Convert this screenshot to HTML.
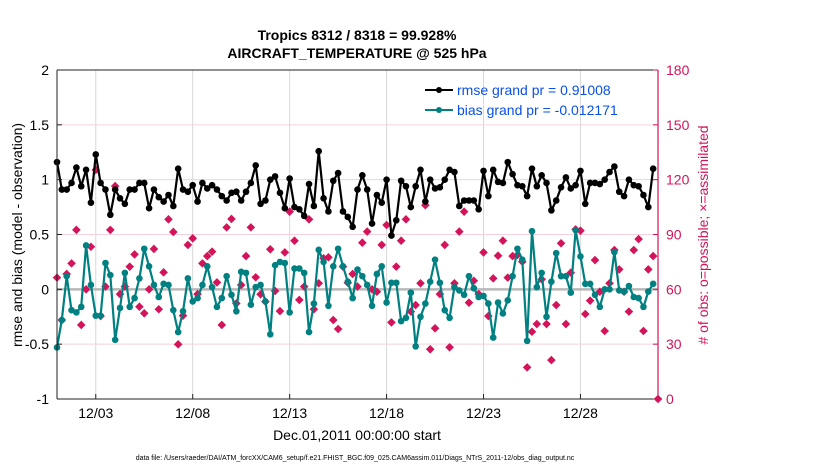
<!DOCTYPE html>
<html><head><meta charset="utf-8"><style>
body{margin:0;background:#fff;}
svg{display:block;font-family:"Liberation Sans",Arial,sans-serif;}
</style></head><body>
<svg id="chart" width="830" height="470" viewBox="0 0 830 470">
<text x="357" y="40" text-anchor="middle" font-size="14" font-weight="bold">Tropics 8312 / 8318 = 99.928%</text>
<text x="357" y="58" text-anchor="middle" font-size="14" font-weight="bold">AIRCRAFT_TEMPERATURE @ 525 hPa</text>
<g id="grid"></g>
<g id="marks"></g>
<g id="axes"></g>
<g>
 <g>
  <line x1="425" y1="90" x2="453" y2="90" stroke="#000" stroke-width="2"/><circle cx="439" cy="90" r="3" fill="#000"/>
  <text x="457" y="95" font-size="14" fill="#0a50e8">rmse grand pr = 0.91008</text></g>
 <g>
  <line x1="425" y1="110" x2="453" y2="110" stroke="#008080" stroke-width="2"/><circle cx="439" cy="110" r="3" fill="#008080"/>
  <text x="457" y="115" font-size="14" fill="#0a50e8">bias grand pr = -0.012171</text></g>
</g>
<text x="0" y="0" transform="translate(22,235) rotate(-90)" text-anchor="middle" font-size="14">rmse and bias (model - observation)</text>
<text x="0" y="0" transform="translate(708,235) rotate(-90)" text-anchor="middle" font-size="14" fill="#d4145a"># of obs: o=possible; ×=assimilated</text>
<text x="357" y="440" text-anchor="middle" font-size="14">Dec.01,2011 00:00:00 start</text>
<text x="355" y="460" text-anchor="middle" font-size="7">data file: /Users/raeder/DAI/ATM_forcXX/CAM6_setup/f.e21.FHIST_BGC.f09_025.CAM6assim.011/Diags_NTrS_2011-12/obs_diag_output.nc</text>
</svg>
<script>
const rmse=[1.16,0.91,0.91,0.97,1.11,0.94,1.09,0.79,1.23,0.97,0.91,0.68,0.91,0.83,0.78,0.91,0.91,0.97,0.97,0.74,0.91,0.84,0.80,0.86,0.76,1.10,0.91,0.89,0.95,0.80,0.97,0.92,0.95,0.91,0.85,0.81,0.88,0.89,0.81,0.89,0.97,1.13,0.78,
0.81,1.00,1.03,0.88,0.74,1.01,0.75,0.73,0.67,0.96,0.76,1.26,0.83,0.71,0.99,1.06,0.71,0.66,0.57,0.91,1.04,0.91,0.60,0.86,0.79,1.00,0.49,0.63,0.99,0.94,0.75,0.94,1.09,0.80,1.00,0.92,0.93,1.00,1.09,1.07,0.76,0.81,
0.81,0.81,0.73,1.08,0.85,1.09,0.98,0.97,1.16,1.05,0.95,0.94,0.85,1.10,0.94,1.04,0.97,0.72,0.81,0.93,1.02,0.92,0.95,1.08,0.78,0.97,0.97,0.96,1.00,1.07,1.12,0.89,0.85,1.00,0.95,0.94,0.86,0.75,1.10];
const bias=[-0.53,-0.28,0.12,-0.19,-0.21,-0.16,0.40,0.04,-0.24,-0.24,0.24,0.13,-0.46,-0.17,0.15,-0.16,-0.08,0.10,0.37,0.21,0.04,-0.07,0.05,0.04,-0.19,-0.39,-0.20,0.10,-0.11,-0.08,0.04,0.21,0.02,-0.16,-0.08,0.12,-0.05,-0.20,0.16,0.15,-0.14,0.02,0.04,
-0.11,-0.41,0.22,0.25,0.24,-0.21,0.19,0.19,0.15,-0.39,-0.13,0.36,0.25,-0.15,0.21,0.37,0.21,0.07,-0.08,0.18,0.12,0.04,-0.15,0.14,0.21,-0.12,0.06,0.06,-0.29,-0.26,-0.03,-0.52,-0.25,-0.13,0.07,0.27,0.06,-0.19,-0.26,0.02,-0.01,-0.05,
0.12,0.01,-0.07,-0.06,-0.13,-0.44,-0.12,-0.22,-0.10,0.12,0.37,0.27,-0.47,0.53,0.02,0.15,-0.25,0.07,0.33,0.12,0.12,-0.03,0.54,0.30,0.05,0.05,-0.05,-0.16,0.00,0.00,0.34,-0.01,-0.02,0.03,-0.07,-0.08,-0.16,-0.02,0.05];
const nobs=[66.4,43.2,68.4,74.2,92.5,40.5,60,83.3,125.3,45.4,61.5,92.5,116.5,57.4,61.5,72.4,79.1,50.5,46.9,60,82.1,49.1,69.3,98.3,91.4,29.9,45.6,84.3,87.9,57.4,74.2,78.2,80.6,63.8,40.5,93.9,98.5,52.3,62.4,78.2,93.9,66.6,57.3,
53.3,81.9,59.1,48.1,80.2,102.5,86.6,54.2,61.5,98.3,49.1,63.3,77.0,77.5,43.2,38.3,72.4,63.6,68.4,61.5,85.5,91.6,60,58.7,84.3,95.2,41.9,72.4,86.6,98.3,47.8,51.4,63.3,106.0,27.2,38.7,57.4,84.3,28.3,63.3,91.6,102.5,
52.7,64.7,57.4,80.2,45.4,66.0,78.4,86.6,66.4,78.2,78.8,75.1,17.3,36.8,41.0,65.5,41.0,21.3,51.4,85.2,41.0,69.1,92.8,92.1,46.5,53.8,76.0,58.7,37.2,63.3,81.5,70.9,58.7,47.8,81.5,87.5,37.2,70.9,78.2,0];
const leftTicks=[-1,-0.5,0,0.5,1,1.5,2];
const leftTickLabels=["-1","-0.5","0","0.5","1","1.5","2"];
const rightTicks=[0,30,60,90,120,150,180];
const xTickDays=[2,7,12,17,22,27];
const xTickLabels=["12/03","12/08","12/13","12/18","12/23","12/28"];

const NS="http://www.w3.org/2000/svg";
const X0=57,X1=658,Y0=399,Y1=70;
const xs=d=>X0+(X1-X0)*d/31;
const yl=v=>Y0-(Y0-Y1)*(v+1)/3;
const yr=v=>Y0-(Y0-Y1)*v/180;
function mk(p,tag,a){const e=document.createElementNS(NS,tag);for(const k in a)e.setAttribute(k,a[k]);p.appendChild(e);return e;}
const grid=document.getElementById('grid'),marks=document.getElementById('marks'),axes=document.getElementById('axes');

xTickDays.forEach(d=>{const l=mk(grid,'line',{x1:xs(d),x2:xs(d),y1:Y1,y2:Y0,stroke:'#d8d8d8','stroke-width':1});

});
rightTicks.forEach(v=>{if(v===60)return;const l=mk(grid,'line',{x1:X0,x2:X1,y1:yr(v),y2:yr(v),stroke:'#f6d0dc','stroke-width':1});

});
const zl=mk(grid,'line',{x1:X0,x2:X1,y1:yl(0),y2:yl(0),stroke:'#b8b8b8','stroke-width':2.5});



// diamonds
nobs.forEach((v,i)=>{const cx=xs(i/4),cy=yr(v),s=4.3;
const d=mk(marks,'path',{d:`M${cx} ${cy-s}L${cx+s} ${cy}L${cx} ${cy+s}L${cx-s} ${cy}Z`,fill:'#d4145a'});

});

function series(arr,col,name){
 const pts=arr.map((v,i)=>xs(i/4).toFixed(1)+','+yl(v).toFixed(1)).join(' ');
 const pl=mk(marks,'polyline',{points:pts,fill:'none',stroke:col,'stroke-width':2.2,'stroke-linejoin':'round'});
 
 
 arr.forEach((v,i)=>{const c=mk(marks,'circle',{cx:xs(i/4),cy:yl(v),r:3.3,fill:col});
 
 });
}
series(rmse,'#000','rmse');
series(bias,'#008080','bias');

// axes
const la=mk(axes,'line',{x1:X0,x2:X0,y1:Y1,y2:Y0,stroke:'#222','stroke-width':1});


const ba=mk(axes,'line',{x1:X0,x2:X1,y1:Y0,y2:Y0,stroke:'#222','stroke-width':1});


const ta=mk(axes,'line',{x1:X0,x2:X1,y1:Y1,y2:Y1,stroke:'#222','stroke-width':1});


const ra=mk(axes,'line',{x1:X1,x2:X1,y1:Y1,y2:Y0,stroke:'#d4145a','stroke-width':1.2});


leftTicks.forEach((v,i)=>{mk(axes,'line',{x1:X0,x2:X0+5,y1:yl(v),y2:yl(v),stroke:'#222'});
const t=mk(axes,'text',{x:X0-8,y:yl(v)+5,'text-anchor':'end','font-size':14});t.textContent=leftTickLabels[i];

});
rightTicks.forEach(v=>{mk(axes,'line',{x1:X1-5,x2:X1,y1:yr(v),y2:yr(v),stroke:'#d4145a'});
const t=mk(axes,'text',{x:X1+8,y:yr(v)+5,'font-size':14,fill:'#d4145a'});t.textContent=v;

});
xTickDays.forEach((d,i)=>{mk(axes,'line',{x1:xs(d),x2:xs(d),y1:Y0,y2:Y0-5,stroke:'#222'});
const t=mk(axes,'text',{x:xs(d),y:Y0+19,'text-anchor':'middle','font-size':14});t.textContent=xTickLabels[i];

});
</script>
</body></html>
